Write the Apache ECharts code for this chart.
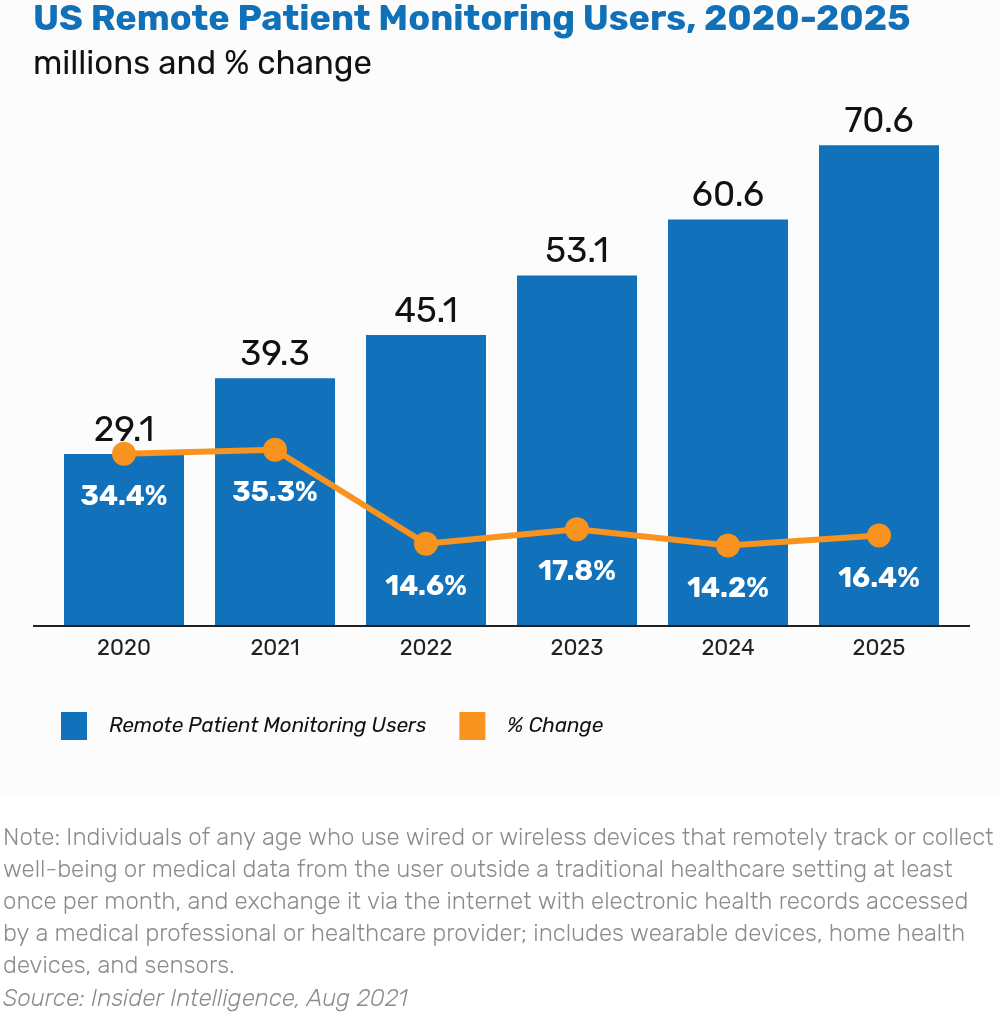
<!DOCTYPE html>
<html><head><meta charset="utf-8">
<script src="https://cdn.jsdelivr.net/npm/echarts@6/dist/echarts.min.js"></script>
<style>html,body{margin:0;padding:0;background:#fff}#c{width:1000px;height:1017px}</style>
</head><body><div id="c"></div>
<script>
const years = ['2020','2021','2022','2023','2024','2025'];
const users = [29.1, 39.3, 45.1, 53.1, 60.6, 70.6];
const pctChange = [34.4, 35.3, 14.6, 17.8, 14.2, 16.4];
const titleText = 'US Remote Patient Monitoring Users, 2020-2025';
const subtitleText = 'millions and % change';
const noteLines = [
 'Note: Individuals of any age who use wired or wireless devices that remotely track or collect',
 'well-being or medical data from the user outside a traditional healthcare setting at least',
 'once per month, and exchange it via the internet with electronic health records accessed',
 'by a medical professional or healthcare provider; includes wearable devices, home health',
 'devices, and sensors.'
];
const sourceText = 'Source: Insider Intelligence, Aug 2021';

const FONT = 'Rubik, Inter, Roboto, "Noto Sans", sans-serif';
const BLUE = '#1172bb', ORANGE = '#f7931e';
const chart = echarts.init(document.getElementById('c'), null, {renderer:'canvas'});
const graphics = [
  {type:'rect', shape:{x:0,y:0,width:1000,height:795}, style:{fill:'#fcfcfc'}, z:-10},
  {type:'line', shape:{x1:33,y1:626,x2:970,y2:626}, style:{stroke:'#222',lineWidth:2}, z:5},
  {type:'text', left:33, top:2, style:{text:titleText, font:'bold 36px '+FONT, fill:'#1070b8'}},
  {type:'text', left:33, top:48, style:{text:subtitleText, font:'33px '+FONT, fill:'#111'}}
];
noteLines.forEach((t,i)=>graphics.push({type:'text', left:3, top:826+i*32,
  style:{text:t, font:'300 24px '+FONT, fill:'#8c8c8c'}}));
graphics.push({type:'text', left:3, top:987, style:{text:sourceText, font:'italic 300 24px '+FONT, fill:'#8c8c8c'}});

chart.setOption({
  animation:false,
  backgroundColor:'#ffffff',
  textStyle:{fontFamily:FONT},
  graphic:graphics,
  legend:{left:56, top:707, itemWidth:26, itemHeight:28, itemGap:33, icon:'rect',
    textStyle:{fontStyle:'italic', fontSize:20.6, color:'#111', padding:[0,0,0,17]},
    data:['Remote Patient Monitoring Users','% Change']},
  grid:{left:48.5, right:45.5, top:105, bottom:391},
  xAxis:{type:'category', data:years, axisLine:{show:false}, axisTick:{show:false},
    axisLabel:{fontSize:22, color:'#222', margin:12}},
  yAxis:[
    {type:'value', min:6, max:76, show:false, splitLine:{show:false}},
    {type:'value', min:-3.5, max:111.2, show:false, splitLine:{show:false}}
  ],
  series:[
    {name:'Remote Patient Monitoring Users', type:'bar', data:users, barWidth:120,
      itemStyle:{color:BLUE},
      label:{show:true, position:'top', distance:6, fontSize:35, color:'#111',
        formatter:p=>p.value.toFixed(1)}},
    {name:'% Change', type:'line', yAxisIndex:1, data:pctChange, symbol:'circle', symbolSize:24,
      lineStyle:{color:ORANGE, width:6}, itemStyle:{color:ORANGE},
      label:{show:true, position:'bottom', distance:17, fontSize:28, fontWeight:'bold', color:'#fff',
        formatter:p=>p.value.toFixed(1)+'%'}, z:4}
  ]
});
</script></body></html>
